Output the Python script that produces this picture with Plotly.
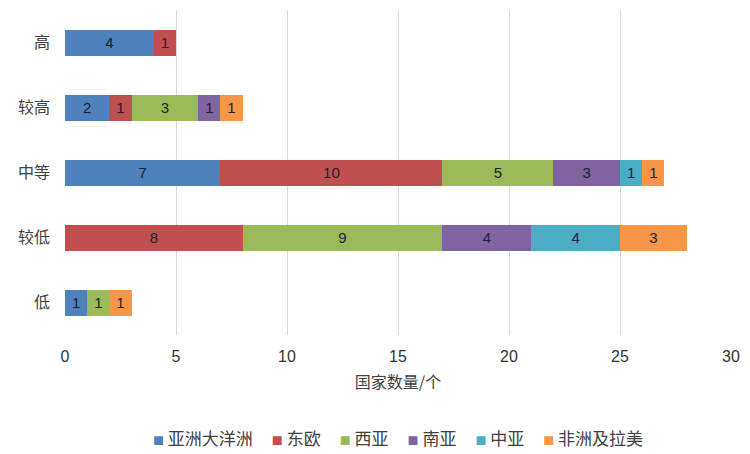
import plotly.graph_objects as go

# 水平等级（自下而上）
levels = ["低", "较低", "中等", "较高", "高"]

asia_oceania = [1, 0, 7, 2, 4]
east_europe = [0, 8, 10, 1, 1]
west_asia = [1, 9, 5, 3, 0]
south_asia = [0, 4, 3, 1, 0]
central_asia = [0, 4, 1, 0, 0]
africa_latam = [1, 3, 1, 1, 0]

series = [
    ("亚洲大洋洲", asia_oceania, "#4F81BD"),
    ("东欧", east_europe, "#C0504D"),
    ("西亚", west_asia, "#9BBB59"),
    ("南亚", south_asia, "#8064A2"),
    ("中亚", central_asia, "#4BACC6"),
    ("非洲及拉美", africa_latam, "#F79646"),
]

font_cn = "Noto Sans CJK SC"

fig = go.Figure()
for name, vals, color in series:
    fig.add_trace(go.Bar(
        y=levels,
        x=vals,
        name=name,
        orientation="h",
        marker=dict(color=color, line=dict(width=0)),
        text=[str(v) if v else "" for v in vals],
        textposition="inside",
        insidetextanchor="middle",
        textfont=dict(color="#1c2233", size=15, family="Liberation Sans"),
        textangle=0,
        hoverinfo="x+name",
        showlegend=False,
    ))

# 图例：用一行注释代替（色块 + 名称）
legend_text = "&nbsp;&nbsp;&nbsp;&nbsp;&nbsp;".join(
    f"<span style='color:{c};font-size:11px'>■</span>&nbsp;{n}" for n, _, c in series
)
fig.add_annotation(
    text=legend_text,
    xref="paper", yref="paper",
    x=0.5, y=-0.315,
    xanchor="center", yanchor="middle",
    showarrow=False,
    font=dict(family=font_cn, size=17, color="#404040"),
)

# 页面 body 自带 8px 边距，这里相应缩小尺寸
fig.update_layout(
    barmode="stack",
    bargap=0.6,
    width=742,
    height=446,
    paper_bgcolor="white",
    plot_bgcolor="white",
    margin=dict(l=57, r=19, t=2, b=119),
    font=dict(family=font_cn, color="#404040"),
    uniformtext=dict(minsize=10, mode="show"),
    xaxis=dict(
        range=[0, 30],
        dtick=5,
        automargin=False,
        showgrid=True,
        gridcolor="#d9d9d9",
        gridwidth=1,
        zeroline=False,
        showline=False,
        ticks="",
        ticklabelstandoff=10,
        tickfont=dict(family="Liberation Sans", size=16, color="#333333"),
        title=dict(text="国家数量/个", font=dict(family=font_cn, size=16, color="#404040"), standoff=12),
    ),
    yaxis=dict(
        automargin=False,
        showgrid=False,
        showline=False,
        ticks="",
        ticklabelstandoff=14,
        tickfont=dict(family=font_cn, size=16, color="#404040"),
    ),
)

fig.write_html("out.html")
